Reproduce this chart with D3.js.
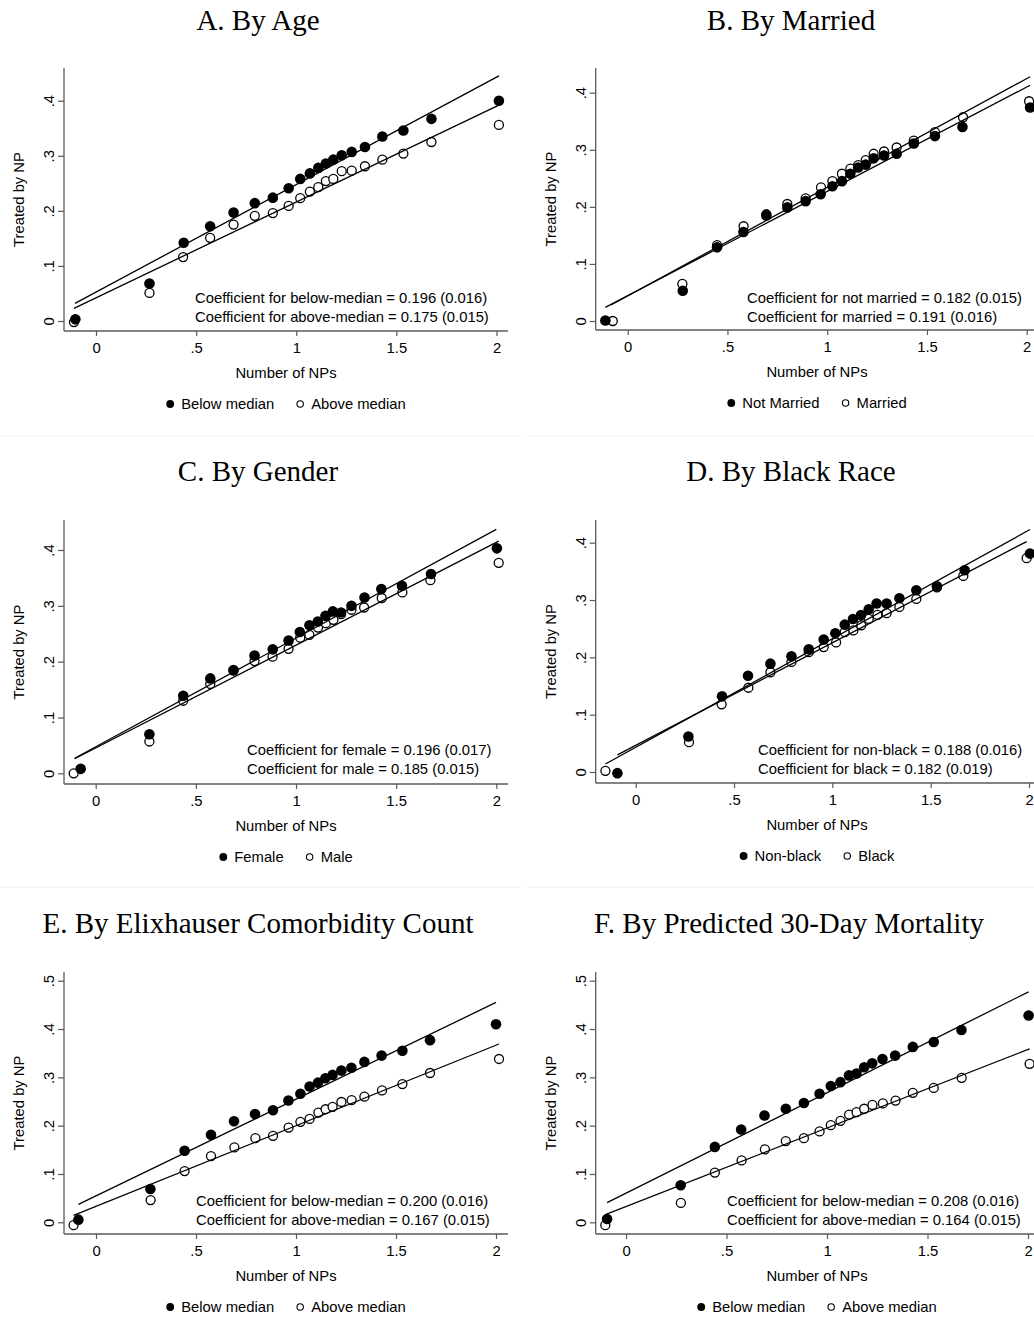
<!DOCTYPE html>
<html>
<head>
<meta charset="utf-8">
<script src="https://cdn.jsdelivr.net/npm/d3@7"></script>
<style>
  html, body { margin: 0; padding: 0; background: #fff; }
  svg { display: block; }
  .tick text { font-family: "Liberation Sans", Arial, sans-serif; }
</style>
</head>
<body>
<svg id="chart" width="1034" height="1318"></svg>
<script>
// ---------------- DATA ----------------
const panelTitles = ["A. By Age", "B. By Married", "C. By Gender", "D. By Black Race",
  "E. By Elixhauser Comorbidity Count", "F. By Predicted 30-Day Mortality"];
const legendFilled = ["Below median", "Not Married", "Female", "Non-black", "Below median", "Below median"];
const legendHollow = ["Above median", "Married", "Male", "Black", "Above median", "Above median"];
const coefLine1 = ["Coefficient for below-median = 0.196 (0.016)", "Coefficient for not married = 0.182 (0.015)",
  "Coefficient for female = 0.196 (0.017)", "Coefficient for non-black = 0.188 (0.016)",
  "Coefficient for below-median = 0.200 (0.016)", "Coefficient for below-median = 0.208 (0.016)"];
const coefLine2 = ["Coefficient for above-median = 0.175 (0.015)", "Coefficient for married = 0.191 (0.016)",
  "Coefficient for male = 0.185 (0.015)", "Coefficient for black = 0.182 (0.019)",
  "Coefficient for above-median = 0.167 (0.015)", "Coefficient for above-median = 0.164 (0.015)"];
const xTickValues = [0, 0.5, 1, 1.5, 2];
const xTickLabels = ["0", ".5", "1", "1.5", "2"];
const yTickValues4 = [0, 0.1, 0.2, 0.3, 0.4];
const yTickLabels4 = ["0", ".1", ".2", ".3", ".4"];
const yTickValues5 = [0, 0.1, 0.2, 0.3, 0.4, 0.5];
const yTickLabels5 = ["0", ".1", ".2", ".3", ".4", ".5"];
const xTitle = "Number of NPs";
const yTitle = "Treated by NP";

// A. By Age
const aFilledX = [-0.103, 0.267, 0.438, 0.57, 0.687, 0.793, 0.883, 0.962, 1.02, 1.068, 1.11, 1.148, 1.185, 1.227, 1.277, 1.343, 1.43, 1.535, 1.675, 2.012];
const aFilledY = [0.003, 0.068, 0.142, 0.172, 0.197, 0.214, 0.224, 0.241, 0.258, 0.268, 0.278, 0.286, 0.293, 0.301, 0.307, 0.316, 0.335, 0.346, 0.367, 0.4];
const aHollowX = [-0.11, 0.267, 0.435, 0.57, 0.687, 0.793, 0.883, 0.962, 1.02, 1.068, 1.11, 1.148, 1.185, 1.227, 1.277, 1.343, 1.43, 1.535, 1.675, 2.012];
const aHollowY = [-0.002, 0.051, 0.116, 0.151, 0.175, 0.191, 0.196, 0.209, 0.223, 0.235, 0.243, 0.254, 0.258, 0.272, 0.273, 0.281, 0.293, 0.304, 0.325, 0.356];
const aFitFilled = [-0.105, 0.032, 2.012, 0.445];
const aFitHollow = [-0.11, 0.023, 2.012, 0.392];

// B. By Married
const bFilledX = [-0.112, 0.276, 0.448, 0.58, 0.695, 0.8, 0.892, 0.967, 1.026, 1.074, 1.116, 1.155, 1.193, 1.233, 1.285, 1.348, 1.434, 1.54, 1.678, 2.017];
const bFilledY = [0.001, 0.053, 0.129, 0.156, 0.185, 0.199, 0.21, 0.222, 0.236, 0.245, 0.258, 0.269, 0.274, 0.285, 0.29, 0.293, 0.311, 0.324, 0.34, 0.374];
const bHollowX = [-0.075, 0.274, 0.448, 0.581, 0.695, 0.8, 0.892, 0.969, 1.026, 1.074, 1.116, 1.155, 1.193, 1.233, 1.285, 1.348, 1.434, 1.54, 1.681, 2.012];
const bHollowY = [0.0, 0.065, 0.133, 0.166, 0.187, 0.205, 0.215, 0.234, 0.245, 0.258, 0.267, 0.273, 0.282, 0.293, 0.297, 0.304, 0.316, 0.331, 0.357, 0.385];
const bFitFilled = [-0.112, 0.024, 2.017, 0.413];
const bFitHollow = [-0.084, 0.028, 2.017, 0.428];

// C. By Gender
const cFilledX = [-0.075, 0.268, 0.437, 0.572, 0.688, 0.793, 0.884, 0.963, 1.019, 1.067, 1.109, 1.147, 1.184, 1.225, 1.277, 1.342, 1.426, 1.529, 1.674, 2.003];
const cFilledY = [0.008, 0.07, 0.139, 0.17, 0.185, 0.211, 0.222, 0.238, 0.253, 0.265, 0.272, 0.282, 0.29, 0.288, 0.3, 0.315, 0.33, 0.336, 0.357, 0.403];
const cHollowX = [-0.11, 0.268, 0.437, 0.572, 0.688, 0.793, 0.883, 0.963, 1.021, 1.067, 1.11, 1.149, 1.187, 1.225, 1.277, 1.34, 1.428, 1.531, 1.671, 2.012];
const cHollowY = [0.0, 0.057, 0.13, 0.16, 0.184, 0.201, 0.209, 0.223, 0.243, 0.248, 0.261, 0.269, 0.275, 0.285, 0.293, 0.297, 0.314, 0.324, 0.346, 0.377];
const cFitFilled = [-0.105, 0.027, 2.0, 0.437];
const cFitHollow = [-0.105, 0.026, 2.012, 0.416];

// D. By Black Race
const dFilledX = [-0.093, 0.268, 0.439, 0.571, 0.685, 0.792, 0.88, 0.956, 1.015, 1.063, 1.105, 1.146, 1.185, 1.225, 1.276, 1.341, 1.427, 1.532, 1.673, 2.005];
const dFilledY = [-0.002, 0.062, 0.132, 0.168, 0.189, 0.202, 0.214, 0.231, 0.242, 0.257, 0.267, 0.274, 0.284, 0.294, 0.294, 0.303, 0.317, 0.324, 0.352, 0.381];
const dHollowX = [-0.154, 0.271, 0.437, 0.573, 0.685, 0.792, 0.88, 0.956, 1.019, 1.063, 1.107, 1.147, 1.185, 1.229, 1.276, 1.341, 1.427, 1.532, 1.666, 1.988];
const dHollowY = [0.002, 0.052, 0.118, 0.147, 0.174, 0.192, 0.209, 0.218, 0.226, 0.244, 0.247, 0.256, 0.267, 0.274, 0.277, 0.288, 0.302, 0.322, 0.342, 0.373];
const dFitFilled = [-0.154, 0.014, 2.005, 0.423];
const dFitHollow = [-0.093, 0.030, 1.988, 0.402];

// E. By Elixhauser Comorbidity Count
const eFilledX = [-0.088, 0.272, 0.443, 0.575, 0.69, 0.795, 0.885, 0.962, 1.022, 1.068, 1.11, 1.147, 1.183, 1.227, 1.277, 1.342, 1.428, 1.532, 1.67, 2.0];
const eFilledY = [0.0055, 0.069, 0.148, 0.181, 0.209, 0.224, 0.232, 0.252, 0.266, 0.281, 0.289, 0.298, 0.305, 0.314, 0.32, 0.332, 0.345, 0.355, 0.377, 0.41];
const eHollowX = [-0.112, 0.273, 0.443, 0.575, 0.692, 0.797, 0.885, 0.963, 1.022, 1.068, 1.112, 1.148, 1.183, 1.227, 1.278, 1.342, 1.43, 1.532, 1.67, 2.015];
const eHollowY = [-0.006, 0.046, 0.106, 0.137, 0.155, 0.174, 0.179, 0.196, 0.208, 0.214, 0.227, 0.234, 0.239, 0.249, 0.253, 0.26, 0.273, 0.286, 0.309, 0.338];
const eFitFilled = [-0.088, 0.037, 2.0, 0.455];
const eFitHollow = [-0.112, 0.0145, 2.015, 0.369];

// F. By Predicted 30-Day Mortality
const fFilledX = [-0.094, 0.272, 0.442, 0.573, 0.689, 0.795, 0.885, 0.963, 1.019, 1.067, 1.109, 1.147, 1.185, 1.225, 1.276, 1.339, 1.427, 1.531, 1.669, 2.003];
const fFilledY = [0.0069, 0.0766, 0.156, 0.192, 0.221, 0.235, 0.247, 0.266, 0.282, 0.29, 0.304, 0.308, 0.321, 0.329, 0.338, 0.345, 0.363, 0.373, 0.398, 0.428];
const fHollowX = [-0.103, 0.273, 0.442, 0.575, 0.691, 0.795, 0.885, 0.963, 1.019, 1.067, 1.11, 1.147, 1.185, 1.226, 1.278, 1.341, 1.427, 1.531, 1.67, 2.008];
const fHollowY = [-0.006, 0.04, 0.103, 0.128, 0.151, 0.168, 0.174, 0.188, 0.201, 0.21, 0.223, 0.228, 0.235, 0.243, 0.246, 0.252, 0.268, 0.278, 0.299, 0.328];
const fFitFilled = [-0.094, 0.0407, 2.003, 0.477];
const fFitHollow = [-0.103, 0.0159, 2.008, 0.359];

// ---------------- LAYOUT ----------------
const SANS = '"Liberation Sans", Arial, sans-serif';
const SERIF = '"Liberation Serif", "Times New Roman", serif';
const FS = 14.8;
const AXIS_COLOR = "#5a5a5a";

const panels = [
  { fx: aFilledX, fy: aFilledY, hx: aHollowX, hy: aHollowY, ff: aFitFilled, fh: aFitHollow,
    x0: 96, x2: 496.5, y0: 321, yRef: 0.4, yRefPx: 100.7, axX: 64, axTop: 68, axY: 331, axRight: 508,
    titleX: 258, titleY: 30, coefX: 195, coefY: 303, cx: 286, five: false },
  { fx: bFilledX, fy: bFilledY, hx: bHollowX, hy: bHollowY, ff: bFitFilled, fh: bFitHollow,
    x0: 627.7, x2: 1026.7, y0: 321, yRef: 0.4, yRefPx: 92.7, axX: 595.7, axTop: 68, axY: 330, axRight: 1040,
    titleX: 791, titleY: 30, coefX: 747, coefY: 303, cx: 817, five: false },
  { fx: cFilledX, fy: cFilledY, hx: cHollowX, hy: cHollowY, ff: cFitFilled, fh: cFitHollow,
    x0: 95.7, x2: 496.3, y0: 773.3, yRef: 0.4, yRefPx: 550, axX: 64, axTop: 520, axY: 784, axRight: 508,
    titleX: 258, titleY: 481, coefX: 247, coefY: 755, cx: 286, five: false },
  { fx: dFilledX, fy: dFilledY, hx: dHollowX, hy: dHollowY, ff: dFitFilled, fh: dFitHollow,
    x0: 635.7, x2: 1029, y0: 772, yRef: 0.4, yRefPx: 542.7, axX: 595.7, axTop: 520, axY: 783, axRight: 1040,
    titleX: 791, titleY: 481, coefX: 758, coefY: 755, cx: 817, five: false },
  { fx: eFilledX, fy: eFilledY, hx: eHollowX, hy: eHollowY, ff: eFitFilled, fh: eFitHollow,
    x0: 96, x2: 496, y0: 1222.3, yRef: 0.5, yRefPx: 980.7, axX: 64, axTop: 972, axY: 1234, axRight: 508,
    titleX: 258, titleY: 933, coefX: 196, coefY: 1206, cx: 286, five: true },
  { fx: fFilledX, fy: fFilledY, hx: fHollowX, hy: fHollowY, ff: fFitFilled, fh: fFitHollow,
    x0: 626, x2: 1028, y0: 1222.3, yRef: 0.5, yRefPx: 980.7, axX: 595.7, axTop: 972, axY: 1234, axRight: 1040,
    titleX: 789, titleY: 933, coefX: 727, coefY: 1206, cx: 817, five: true }
];

const svg = d3.select("#chart");

// faint panel separators
const sepColor = "#e8f0f1";
[436, 887].forEach(yy => {
  svg.append("line").attr("x1", 0).attr("x2", 521.5).attr("y1", yy).attr("y2", yy)
    .attr("stroke", sepColor).attr("stroke-width", 1.2);
  svg.append("line").attr("x1", 527.7).attr("x2", 1034).attr("y1", yy).attr("y2", yy)
    .attr("stroke", sepColor).attr("stroke-width", 1.2);
});

panels.forEach((p, i) => {
  const g = svg.append("g");
  const x = d3.scaleLinear().domain([0, 2]).range([p.x0, p.x2]);
  const y = d3.scaleLinear().domain([0, p.yRef]).range([p.y0, p.yRefPx]);
  const yVals = p.five ? yTickValues5 : yTickValues4;
  const yLabs = p.five ? yTickLabels5 : yTickLabels4;

  // title
  g.append("text").attr("x", p.titleX).attr("y", p.titleY)
    .attr("text-anchor", "middle").attr("font-family", SERIF).attr("font-size", 29)
    .attr("fill", "#000").text(panelTitles[i]);

  // axis lines
  g.append("line").attr("x1", p.axX).attr("x2", p.axX).attr("y1", p.axTop).attr("y2", p.axY)
    .attr("stroke", AXIS_COLOR).attr("stroke-width", 1.3);
  g.append("line").attr("x1", p.axX).attr("x2", p.axRight).attr("y1", p.axY).attr("y2", p.axY)
    .attr("stroke", AXIS_COLOR).attr("stroke-width", 1.3);

  // x axis ticks via d3 axis
  const xAxis = d3.axisBottom(x).tickValues(xTickValues)
    .tickFormat((d, k) => xTickLabels[k]).tickSizeInner(5).tickSizeOuter(0).tickPadding(4);
  const xg = g.append("g").attr("transform", `translate(0,${p.axY})`).call(xAxis);
  xg.select(".domain").remove();
  xg.selectAll(".tick line").attr("stroke", AXIS_COLOR).attr("stroke-width", 1.2);
  xg.selectAll(".tick text").attr("font-size", FS).attr("fill", "#000")
    .attr("font-family", SANS).attr("dy", "0.85em");

  // y axis ticks via d3 axis
  const yAxis = d3.axisLeft(y).tickValues(yVals)
    .tickFormat((d, k) => yLabs[k]).tickSizeInner(6).tickSizeOuter(0).tickPadding(9);
  const yg = g.append("g").attr("transform", `translate(${p.axX},0)`).call(yAxis);
  yg.select(".domain").remove();
  yg.selectAll(".tick line").attr("stroke", AXIS_COLOR).attr("stroke-width", 1.2);
  yg.selectAll(".tick text").each(function () {
    const t = d3.select(this);
    t.attr("x", null).attr("dy", null)
      .attr("transform", "translate(-15,0) rotate(-90)")
      .attr("text-anchor", "middle").attr("dy", "0.35em")
      .attr("font-size", FS).attr("fill", "#000").attr("font-family", SANS);
  });

  // axis titles
  g.append("text")
    .attr("x", 0).attr("y", 0).attr("dy", "0.35em")
    .attr("transform", `translate(${p.axX - 45},${(p.axTop + p.axY) / 2}) rotate(-90)`)
    .attr("text-anchor", "middle").attr("font-family", SANS).attr("font-size", FS)
    .attr("fill", "#000").text(yTitle);
  g.append("text").attr("x", p.cx).attr("y", p.axY + 46.5)
    .attr("text-anchor", "middle").attr("font-family", SANS).attr("font-size", FS)
    .attr("fill", "#000").text(xTitle);

  // points: hollow first, then filled
  const hollow = p.hx.map((v, k) => ({ x: v, y: p.hy[k] }));
  const filled = p.fx.map((v, k) => ({ x: v, y: p.fy[k] }));
  g.selectAll("circle.h").data(hollow).enter().append("circle").attr("class", "h")
    .attr("cx", d => x(d.x)).attr("cy", d => y(d.y)).attr("r", 4.5)
    .attr("fill", "#fff").attr("stroke", "#000").attr("stroke-width", 1.3);
  g.selectAll("circle.f").data(filled).enter().append("circle").attr("class", "f")
    .attr("cx", d => x(d.x)).attr("cy", d => y(d.y)).attr("r", 5.3)
    .attr("fill", "#000");

  // fit lines
  [p.ff, p.fh].forEach(f => {
    g.append("line").attr("x1", x(f[0])).attr("y1", y(f[1])).attr("x2", x(f[2])).attr("y2", y(f[3]))
      .attr("stroke", "#000").attr("stroke-width", 1.3);
  });

  // coefficient text
  g.append("text").attr("x", p.coefX).attr("y", p.coefY)
    .attr("font-family", SANS).attr("font-size", FS).attr("fill", "#000").text(coefLine1[i]);
  g.append("text").attr("x", p.coefX).attr("y", p.coefY + 18.6)
    .attr("font-family", SANS).attr("font-size", FS).attr("fill", "#000").text(coefLine2[i]);

  // legend, centered on cx
  const lg = g.append("g");
  const ly = p.axY + 73;
  const t1 = lg.append("text").attr("y", ly + 5).attr("font-family", SANS).attr("font-size", FS)
    .attr("fill", "#000").text(legendFilled[i]);
  const t2 = lg.append("text").attr("y", ly + 5).attr("font-family", SANS).attr("font-size", FS)
    .attr("fill", "#000").text(legendHollow[i]);
  const w1 = t1.node().getComputedTextLength();
  const w2 = t2.node().getComputedTextLength();
  const gapM = 7, gapItems = 22, mW = 8;
  const total = mW + gapM + w1 + gapItems + mW + gapM + w2;
  let cur = p.cx - total / 2;
  lg.append("circle").attr("cx", cur + mW / 2).attr("cy", ly).attr("r", 3.9).attr("fill", "#000");
  cur += mW + gapM;
  t1.attr("x", cur);
  cur += w1 + gapItems;
  lg.append("circle").attr("cx", cur + mW / 2).attr("cy", ly).attr("r", 3.2)
    .attr("fill", "#fff").attr("stroke", "#000").attr("stroke-width", 1.1);
  cur += mW + gapM;
  t2.attr("x", cur);
});
</script>
</body>
</html>
